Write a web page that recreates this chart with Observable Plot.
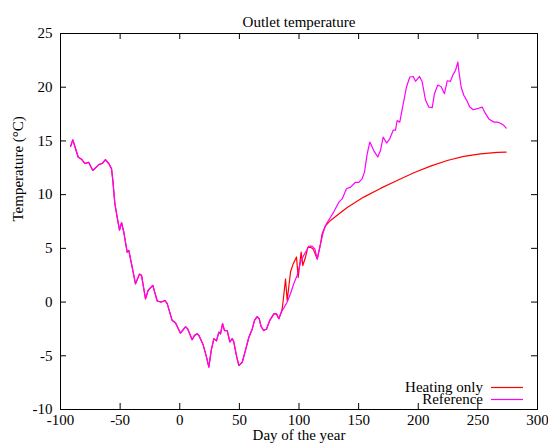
<!DOCTYPE html>
<html><head><meta charset="utf-8">
<script src="https://cdn.jsdelivr.net/npm/d3@7"></script>
<script src="https://cdn.jsdelivr.net/npm/@observablehq/plot@0.6"></script>
<style>body{margin:0;background:#fff} #chart{position:relative;width:548px;height:446px}</style>
</head><body><div id="chart"></div>
<script>
const chartTitle = "Outlet temperature";
const xLabel = "Day of the year";
const yLabel = "Temperature (°C)";
const xTicks = [-100, -50, 0, 50, 100, 150, 200, 250, 300];
const yTicks = [-10, -5, 0, 5, 10, 15, 20, 25];
const seriesNames = ["Heating only", "Reference"];
const seriesColors = ["#ff0000", "#ff00ff"];

const refDays = [-91.5,-89.7,-87.4,-85.2,-82.4,-79.6,-76.3,-72.9,-67.9,-65.0,-62.3,-59.5,-57.2,-56.1,-54.4,-52.5,-50.5,-48.8,-46.9,-44.1,-42.7,-39.9,-37.1,-33.8,-32.1,-28.7,-26.5,-22.6,-18.9,-15.3,-12.5,-10.5,-6.4,-3.5,0.6,4.8,6.7,10.4,12.4,14.6,16.0,19.7,22.4,24.4,26.4,28.6,30.8,32.8,34.2,35.9,37.5,39.8,42.0,44.0,45.3,47.6,49.5,52.4,55.1,57.9,60.8,62.7,64.9,66.6,68.3,70.5,72.8,75.5,78.9,81.1,83.1,85.1,87.3,90.1,92.9,95.6,98.5,101.3,104.0,106.3,108.2,111.0,113.3,115.3,118.0,120.3,122.2,123.6,126.4,129.2,133.4,136.2,139.8,143.2,147.4,150.2,153.0,154.9,157.2,159.4,162.7,166.1,168.3,170.6,173.4,176.1,179.0,180.9,182.3,184.5,187.4,190.1,192.9,195.8,197.7,199.6,201.1,203.3,206.1,208.8,211.7,213.6,216.4,219.2,222.0,224.3,227.0,229.3,231.2,233.2,234.0,236.0,238.2,240.5,243.2,246.1,249.4,253.6,255.6,259.2,263.4,266.2,269.0,271.7,273.7];
const refTemps = [14.5,15.1,14.3,13.5,13.3,12.9,13.0,12.25,12.8,12.9,13.25,12.9,12.4,11.3,9.15,7.9,6.7,7.4,6.5,4.65,4.8,3.25,1.7,2.6,2.5,0.3,1.1,1.55,0.1,0.0,0.15,-0.15,-1.7,-1.95,-2.9,-2.3,-2.5,-3.5,-3.1,-2.95,-3.1,-4.0,-5.1,-6.05,-4.5,-3.4,-3.6,-2.8,-2.95,-2.0,-2.65,-2.65,-3.7,-3.4,-3.7,-5.0,-5.9,-5.6,-4.5,-3.3,-2.5,-1.7,-1.35,-1.55,-2.3,-2.65,-2.5,-1.7,-1.1,-1.1,-1.55,-0.95,-0.55,0.0,0.8,1.7,2.5,3.7,4.35,4.8,5.2,5.2,4.95,4.0,5.4,6.5,7.1,7.4,7.9,8.4,9.3,9.6,10.55,10.7,11.15,11.15,11.5,12.1,13.8,14.9,14.1,13.5,14.1,15.35,14.8,15.2,16.0,16.0,16.9,16.75,18.45,20.0,20.95,21.0,20.55,20.8,21.0,20.5,18.8,18.15,18.1,19.4,20.2,20.05,19.4,20.6,20.55,21.2,21.55,22.35,21.55,20.0,19.25,18.8,18.15,17.9,18.0,18.15,17.7,17.05,16.75,16.75,16.65,16.45,16.2];

// "Heating only" follows the reference until day 86, then these points
const heatSplitDay = 86;
const heatDays = [86.0,88.7,90.1,92.9,95.1,97.9,99.3,101.8,103.2,105.5,107.4,109.6,111.9,115.3,118.0,119.4,122.2,126.4,140.4,154.3,168.3,182.3,196.3,210.3,224.3,238.2,252.2,266.2,273.7];
const heatTemps = [-0.6,2.15,0.15,2.8,3.55,4.2,2.3,4.65,3.4,4.2,5.1,5.1,4.95,4.0,5.4,6.35,7.1,7.6,8.8,9.77,10.58,11.32,12.04,12.65,13.18,13.56,13.8,13.93,13.96];

const reference = refDays.map((d, i) => ({day: d, temp: refTemps[i]}));
const heating = reference.filter(p => p.day < heatSplitDay)
  .concat(heatDays.map((d, i) => ({day: d, temp: heatTemps[i]})));

const W = 548, H = 446, mL = 60, mR = 11, mT = 33, mB = 37;
const fw = W - mL - mR, fh = H - mT - mB, tickLen = 6;
const font = "'Liberation Serif', 'Times New Roman', serif";

const chart = Plot.plot({
  width: W, height: H,
  marginLeft: mL, marginRight: mR, marginTop: mT, marginBottom: mB,
  style: {fontFamily: font, fontSize: "15px", background: "#fff", color: "#000"},
  x: {domain: [-100, 300]},
  y: {domain: [-10, 25]},
  marks: [
    Plot.line(heating, {x: "day", y: "temp", stroke: seriesColors[0], strokeWidth: 1.2}),
    Plot.line(reference, {x: "day", y: "temp", stroke: seriesColors[1], strokeWidth: 1.2}),
    Plot.frame({stroke: "#000", strokeWidth: 1}),
    Plot.tickX(xTicks, {x: d => d, insetTop: fh - tickLen, stroke: "#000"}),
    Plot.tickX(xTicks, {x: d => d, insetBottom: fh - tickLen, stroke: "#000"}),
    Plot.tickY(yTicks, {y: d => d, insetRight: fw - tickLen, stroke: "#000"}),
    Plot.tickY(yTicks, {y: d => d, insetLeft: fw - tickLen, stroke: "#000"}),
    Plot.axisX({ticks: xTicks, tickSize: 0, tickPadding: 5, label: null, tickFormat: d => String(d), fontSize: 15}),
    Plot.axisY({ticks: yTicks, tickSize: 0, tickPadding: 8, label: null, tickFormat: d => String(d), fontSize: 15}),
    Plot.text([chartTitle], {frameAnchor: "top", dy: -17, fontSize: 15}),
    Plot.text([xLabel], {frameAnchor: "bottom", dy: 30.5, fontSize: 15}),
    Plot.text([yLabel], {frameAnchor: "left", dx: -42, rotate: -90, fontSize: 15})
  ]
});
document.getElementById("chart").appendChild(chart);

// legend inside bottom-right of the frame
const svg = d3.select(chart);
const lg = svg.append("g").attr("font-family", font).attr("font-size", 15);
seriesNames.forEach((name, i) => {
  const yy = 387.5 + i * 12;
  lg.append("text").attr("x", 483).attr("y", yy).attr("dy", "0.32em")
    .attr("text-anchor", "end").attr("fill", "#000").text(name);
  lg.append("line").attr("x1", 491).attr("x2", 523).attr("y1", yy).attr("y2", yy)
    .attr("stroke", seriesColors[i]).attr("stroke-width", 1.2);
});
</script></body></html>
